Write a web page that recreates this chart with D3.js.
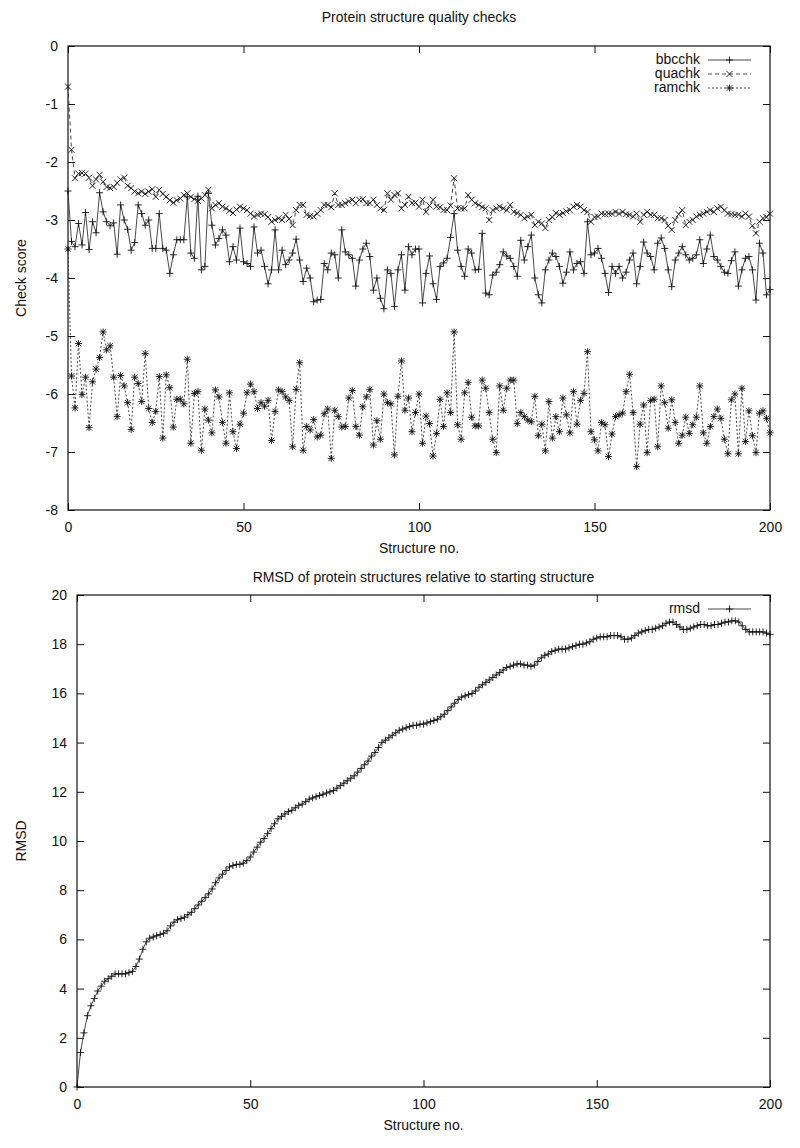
<!DOCTYPE html>
<html>
<head>
<meta charset="utf-8">
<title>Protein structure quality checks</title>
<script src="https://d3js.org/d3.v7.min.js"></script>
<style>
    html, body { margin: 0; padding: 0; background: white; }
    svg text { font-family: "Liberation Sans", Arial, sans-serif; font-size: 14px; fill: #111; }
</style>
</head>
<body>
<div id="graph"></div>
<script>
// structure index (x categories)
var structureNo = d3.range(0, 201);

var bbcchk = [-2.5,-3.37,-3.46,-3.06,-3.43,-2.87,-3.51,-3.03,-3.22,-2.53,
    -2.86,-3.03,-3.1,-3.05,-3.59,-2.74,-3.0,-3.16,-3.52,-3.39,
    -2.74,-2.89,-3.09,-3.0,-3.49,-3.49,-2.89,-3.49,-3.52,-3.92,
    -3.6,-3.34,-3.34,-3.34,-2.6,-3.57,-3.66,-2.59,-3.86,-3.8,
    -2.54,-3.09,-3.43,-3.32,-3.17,-3.26,-3.72,-3.46,-3.69,-3.14,
    -3.72,-3.75,-3.8,-3.12,-3.57,-3.52,-3.8,-4.1,-3.86,-3.17,
    -3.86,-3.52,-3.77,-3.69,-3.57,-3.33,-3.69,-4.06,-3.83,-4.0,
    -4.41,-4.38,-4.37,-3.75,-3.86,-3.57,-3.6,-4.0,-3.17,-3.55,
    -3.6,-3.66,-4.14,-3.69,-3.5,-3.4,-3.63,-4.21,-4.0,-4.35,
    -4.53,-3.86,-3.92,-4.49,-3.86,-3.6,-4.21,-3.46,-3.6,-3.5,
    -3.5,-4.43,-3.92,-3.62,-4.1,-4.37,-3.8,-3.74,-3.66,-3.3,
    -2.89,-3.52,-3.8,-3.97,-3.5,-3.57,-3.86,-3.85,-3.23,-4.26,
    -4.29,-3.95,-3.9,-3.77,-3.55,-3.62,-3.66,-3.8,-3.97,-3.35,
    -3.69,-3.46,-3.26,-4.0,-4.29,-4.43,-3.86,-3.69,-3.57,-3.63,
    -3.8,-4.09,-3.9,-3.55,-3.86,-3.75,-3.72,-3.92,-3.03,-3.6,
    -3.57,-3.49,-3.66,-3.92,-4.25,-3.8,-3.92,-3.8,-4.0,-3.9,
    -3.69,-3.57,-4.1,-3.8,-3.38,-3.57,-3.63,-3.86,-3.4,-3.31,
    -3.49,-3.86,-4.15,-3.69,-3.57,-3.46,-3.6,-3.69,-3.66,-3.6,
    -3.34,-3.75,-3.5,-3.26,-3.63,-3.69,-3.8,-3.9,-3.92,-3.7,
    -3.55,-4.14,-3.86,-3.66,-3.63,-3.86,-4.38,-3.4,-3.57,-4.29,
    -4.2];

var quachk = [-0.7,-1.79,-2.28,-2.2,-2.19,-2.2,-2.27,-2.41,-2.3,-2.22,
    -2.34,-2.43,-2.45,-2.43,-2.36,-2.3,-2.27,-2.41,-2.45,-2.51,
    -2.54,-2.51,-2.55,-2.51,-2.47,-2.6,-2.48,-2.55,-2.6,-2.66,
    -2.7,-2.66,-2.63,-2.57,-2.54,-2.6,-2.64,-2.67,-2.63,-2.57,
    -2.48,-2.8,-2.74,-2.71,-2.77,-2.8,-2.84,-2.88,-2.82,-2.77,
    -2.8,-2.83,-2.89,-2.94,-2.91,-2.89,-2.9,-2.95,-3.03,-3.0,
    -2.97,-3.0,-2.91,-2.98,-3.09,-2.83,-2.74,-2.74,-2.91,-2.93,
    -2.94,-2.89,-2.83,-2.74,-2.74,-2.78,-2.54,-2.74,-2.74,-2.71,
    -2.68,-2.65,-2.71,-2.65,-2.64,-2.71,-2.71,-2.65,-2.74,-2.8,
    -2.83,-2.54,-2.65,-2.57,-2.54,-2.8,-2.74,-2.6,-2.71,-2.7,
    -2.77,-2.65,-2.86,-2.75,-2.65,-2.77,-2.78,-2.83,-2.83,-2.75,
    -2.28,-2.8,-2.8,-2.8,-2.57,-2.65,-2.71,-2.74,-2.78,-2.8,
    -3.0,-2.83,-2.8,-2.77,-2.8,-2.83,-2.74,-2.86,-2.88,-2.91,
    -2.97,-2.94,-2.91,-3.09,-3.03,-3.06,-3.14,-3.0,-2.95,-2.88,
    -2.91,-2.88,-2.85,-2.83,-2.77,-2.74,-2.77,-2.83,-2.86,-3.03,
    -2.95,-2.94,-2.89,-2.9,-2.89,-2.89,-2.86,-2.89,-2.86,-2.9,
    -2.91,-2.94,-2.89,-3.03,-2.91,-2.86,-2.91,-2.91,-2.97,-2.97,
    -3.0,-3.1,-3.17,-3.0,-2.9,-2.83,-3.09,-3.03,-3.0,-2.94,
    -2.91,-2.89,-2.86,-2.83,-2.86,-2.8,-2.77,-2.83,-2.89,-2.9,
    -2.91,-2.91,-2.94,-2.89,-2.94,-3.1,-3.23,-3.03,-2.97,-2.95,
    -2.89];

var ramchk = [-3.5,-5.69,-6.24,-5.13,-6.01,-5.71,-6.58,-5.79,-5.57,-5.37,
    -4.93,-5.24,-5.17,-5.71,-6.39,-5.68,-5.86,-6.15,-6.61,-5.71,
    -5.82,-6.13,-5.3,-6.25,-6.49,-6.3,-5.7,-6.76,-5.67,-5.89,
    -6.57,-6.09,-6.09,-6.17,-5.4,-6.85,-5.99,-5.96,-6.97,-6.26,
    -6.45,-6.67,-5.93,-6.05,-6.49,-6.85,-5.98,-6.65,-6.94,-6.52,
    -6.33,-5.98,-5.83,-5.96,-6.25,-6.15,-6.21,-6.11,-6.8,-6.3,
    -5.93,-5.96,-6.05,-6.11,-6.91,-5.92,-5.46,-6.97,-6.56,-6.62,
    -6.44,-6.74,-6.71,-6.34,-6.26,-7.11,-6.28,-6.39,-6.57,-6.56,
    -6.07,-5.94,-6.56,-6.71,-6.22,-6.05,-5.92,-6.88,-6.46,-6.78,
    -6.0,-6.15,-6.17,-7.05,-6.04,-5.43,-6.28,-6.07,-6.65,-6.32,
    -6.0,-6.85,-6.38,-6.51,-7.07,-6.68,-6.09,-6.56,-5.98,-6.32,
    -4.93,-6.53,-6.78,-5.98,-5.8,-6.4,-6.55,-6.55,-5.76,-5.9,
    -6.32,-6.78,-7.01,-5.86,-6.28,-5.9,-5.76,-5.76,-6.51,-6.32,
    -6.39,-6.45,-6.48,-6.04,-6.72,-6.52,-6.98,-6.13,-6.76,-6.39,
    -6.65,-6.07,-6.36,-6.67,-5.96,-6.52,-6.11,-5.99,-5.27,-6.65,
    -6.79,-6.98,-6.49,-6.53,-7.08,-6.69,-6.39,-6.36,-6.33,-5.96,
    -5.66,-6.32,-7.25,-6.52,-6.19,-7.01,-6.11,-6.09,-6.91,-5.86,
    -6.15,-6.59,-6.1,-6.49,-6.85,-6.71,-6.4,-6.68,-6.53,-6.4,
    -5.86,-6.67,-6.85,-6.56,-6.39,-6.26,-6.42,-6.78,-7.03,-6.1,
    -6.0,-7.03,-5.9,-6.82,-6.29,-6.72,-7.01,-6.33,-6.29,-6.42,
    -6.67];

var rmsd = [0.0,1.4,2.2,2.9,3.3,3.6,3.9,4.1,4.3,4.4,
    4.5,4.6,4.6,4.6,4.6,4.65,4.7,4.9,5.2,5.6,
    5.9,6.05,6.1,6.15,6.2,6.25,6.35,6.55,6.7,6.8,
    6.85,6.9,7.0,7.1,7.25,7.4,7.55,7.7,7.85,8.05,
    8.3,8.5,8.65,8.8,8.95,9.0,9.05,9.05,9.1,9.2,
    9.35,9.55,9.75,9.95,10.1,10.3,10.5,10.7,10.9,11.0,
    11.1,11.2,11.25,11.35,11.45,11.5,11.6,11.7,11.75,11.8,
    11.85,11.9,11.95,12.0,12.05,12.15,12.25,12.35,12.45,12.55,
    12.65,12.8,12.95,13.1,13.25,13.45,13.6,13.8,14.0,14.1,
    14.2,14.3,14.4,14.5,14.55,14.6,14.65,14.7,14.7,14.75,
    14.75,14.8,14.85,14.9,14.95,15.05,15.15,15.3,15.45,15.6,
    15.75,15.85,15.9,15.95,16.0,16.1,16.25,16.35,16.45,16.55,
    16.65,16.75,16.85,16.95,17.05,17.1,17.15,17.2,17.2,17.15,
    17.15,17.1,17.15,17.3,17.45,17.55,17.6,17.7,17.75,17.8,
    17.8,17.8,17.85,17.9,17.95,18.0,18.0,18.05,18.1,18.2,
    18.25,18.3,18.3,18.3,18.35,18.35,18.35,18.3,18.2,18.2,
    18.25,18.35,18.45,18.5,18.55,18.6,18.6,18.65,18.7,18.75,
    18.85,18.9,18.9,18.8,18.7,18.6,18.6,18.65,18.7,18.75,
    18.8,18.8,18.75,18.75,18.8,18.8,18.85,18.9,18.9,18.95,
    18.95,18.9,18.75,18.6,18.5,18.5,18.5,18.5,18.5,18.45,
    18.4];

var xTicks = [0, 50, 100, 150, 200];
var checkTicks = [0, -1, -2, -3, -4, -5, -6, -7, -8];
var rmsdTicks = [0, 2, 4, 6, 8, 10, 12, 14, 16, 18, 20];

// gnuplot-ish point symbols
var marks = {
    plus: "M-3.5,0H3.5M0,-3.5V3.5",
    cross: "M-3,-3L3,3M-3,3L3,-3",
    star: "M-3.5,0H3.5M0,-3.5V3.5M-2.7,-2.7L2.7,2.7M-2.7,2.7L2.7,-2.7"
};

var svg = d3.select("#graph")
    .append("svg")
        .attr("width", 800)
        .attr("height", 1148);

function drawPanel(p) {
    var x = d3.scaleLinear().domain([0, 200]).range([p.left, p.right]);
    var y = d3.scaleLinear().domain(p.yDomain).range([p.bottom, p.top]);
    var g = svg.append("g");

    // inward ticks on all four sides
    g.append("g").attr("transform", "translate(" + p.left + ",0)")
        .call(d3.axisLeft(y).tickValues(p.yTicks).tickSize(-7).tickPadding(10).tickFormat(function(d) { return String(d); }));
    g.append("g").attr("transform", "translate(" + p.right + ",0)")
        .call(d3.axisRight(y).tickValues(p.yTicks).tickSize(-7).tickFormat(""));
    g.append("g").attr("transform", "translate(0," + p.bottom + ")")
        .call(d3.axisBottom(x).tickValues(xTicks).tickSize(-7).tickPadding(12).tickFormat(function(d) { return String(d); }));
    g.append("g").attr("transform", "translate(0," + p.top + ")")
        .call(d3.axisTop(x).tickValues(xTicks).tickSize(-7).tickFormat(""));
    g.selectAll(".domain").remove();
    g.selectAll(".tick line").attr("stroke", "#111");
    g.selectAll(".tick text").attr("font-size", 14).attr("font-family", "Liberation Sans, Arial, sans-serif").attr("fill", "#111");

    g.append("rect")
        .attr("x", p.left).attr("y", p.top)
        .attr("width", p.right - p.left).attr("height", p.bottom - p.top)
        .attr("fill", "none").attr("stroke", "#111").attr("stroke-width", 1.2);

    // titles
    g.append("text").attr("x", (p.left + p.right) / 2).attr("y", p.titleY)
        .attr("text-anchor", "middle").attr("dominant-baseline", "middle").text(p.title);
    g.append("text").attr("x", (p.left + p.right) / 2).attr("y", p.bottom + 39)
        .attr("text-anchor", "middle").attr("dominant-baseline", "middle").text("Structure no.");
    g.append("text")
        .attr("transform", "translate(22," + (p.top + p.bottom) / 2 + ") rotate(-90)")
        .attr("text-anchor", "middle").attr("dominant-baseline", "middle").text(p.yLabel);

    p.series.forEach(function(s, k) {
        var line = d3.line()
            .x(function(i) { return x(structureNo[i]); })
            .y(function(i) { return y(s.values[i]); });
        g.append("path")
            .attr("d", line(d3.range(s.values.length)))
            .attr("fill", "none")
            .attr("stroke", "#333")
            .attr("stroke-width", 0.9)
            .attr("stroke-dasharray", s.dash);
        g.selectAll(null)
            .data(s.values)
            .enter()
            .append("path")
                .attr("d", marks[s.mark])
                .attr("transform", function(d, i) { return "translate(" + x(structureNo[i]) + "," + y(d) + ")"; })
                .attr("fill", "none")
                .attr("stroke", "#111")
                .attr("stroke-width", 0.9);

        //legend
        var ly = p.top + 14 + k * 14;
        g.append("text").attr("x", p.right - 70).attr("y", ly)
            .attr("text-anchor", "end").attr("dominant-baseline", "middle").text(s.name);
        g.append("line").attr("x1", p.right - 62).attr("x2", p.right - 19)
            .attr("y1", ly).attr("y2", ly)
            .attr("stroke", "#333").attr("stroke-width", 0.9).attr("stroke-dasharray", s.dash);
        g.append("path").attr("d", marks[s.mark])
            .attr("transform", "translate(" + (p.right - 40.5) + "," + ly + ")")
            .attr("fill", "none").attr("stroke", "#111").attr("stroke-width", 0.9);
    });
}

drawPanel({
    left: 68, right: 770, top: 46, bottom: 510, titleY: 18,
    yDomain: [-8, 0], yTicks: checkTicks,
    title: "Protein structure quality checks",
    yLabel: "Check score",
    series: [
        {name: "bbcchk", values: bbcchk, dash: null, mark: "plus"},
        {name: "quachk", values: quachk, dash: "4,3", mark: "cross"},
        {name: "ramchk", values: ramchk, dash: "2,2", mark: "star"}
    ]
});

drawPanel({
    left: 77, right: 770, top: 595, bottom: 1087, titleY: 578,
    yDomain: [0, 20], yTicks: rmsdTicks,
    title: "RMSD of protein structures relative to starting structure",
    yLabel: "RMSD",
    series: [
        {name: "rmsd", values: rmsd, dash: null, mark: "plus"}
    ]
});
</script>
</body>
</html>
